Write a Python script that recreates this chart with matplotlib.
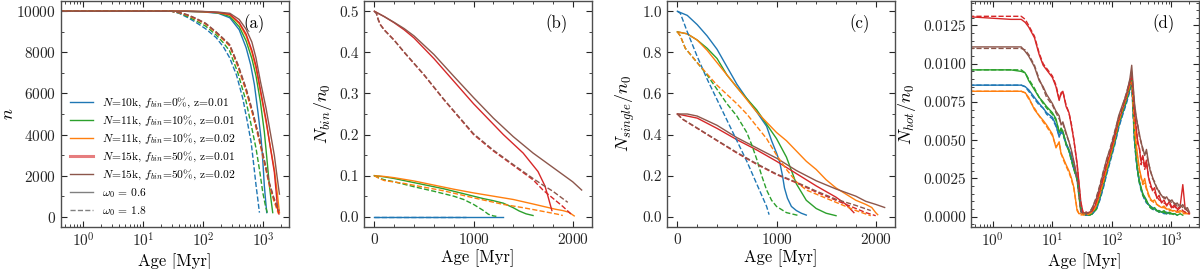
import numpy as np
import matplotlib
matplotlib.use("Agg")
import matplotlib.pyplot as plt
from matplotlib.ticker import MultipleLocator, FormatStrFormatter, LogLocator, NullFormatter

plt.rcParams['font.family'] = ['cmr10', 'DejaVu Serif']
plt.rcParams['mathtext.fontset'] = 'cm'
plt.rcParams['axes.formatter.use_mathtext'] = True
plt.rcParams['axes.unicode_minus'] = False

# ---------------- colours / labels ----------------
C_BLUE, C_GREEN, C_ORANGE, C_RED, C_BROWN = '#1f77b4', '#2ca02c', '#ff7f0e', '#d62728', '#8c564b'
run_labels = [r'$N$=10k, $f_{bin}$=0%, z=0.01',
              r'$N$=11k, $f_{bin}$=10%, z=0.01',
              r'$N$=11k, $f_{bin}$=10%, z=0.02',
              r'$N$=15k, $f_{bin}$=50%, z=0.01',
              r'$N$=15k, $f_{bin}$=50%, z=0.02']
omega_labels = [r'$\omega_0$ = 0.6', r'$\omega_0$ = 1.8']

# ---------------- panel (a): n vs age ----------------
a_blue_s_t = [0.3, 50, 100, 180, 280, 400, 521, 620, 716, 820, 926, 990, 1048, 1100, 1150]
a_blue_s_n = [10000, 10000, 9970, 9900, 9680, 9100, 8230, 7400, 6430, 5100, 3800, 2700, 1510, 800, 200]
a_green_s_t = [0.3, 50, 100, 180, 280, 400, 521, 650, 764, 900, 1048, 1150, 1274, 1360, 1446]
a_green_s_n = [10000, 10000, 9980, 9920, 9750, 9250, 8560, 7700, 6840, 5600, 4130, 2900, 1510, 800, 200]
a_orange_s_t = [0.3, 50, 100, 180, 280, 400, 521, 650, 764, 900, 1122, 1300, 1540, 1700, 1870]
a_orange_s_n = [10000, 10000, 9980, 9930, 9820, 9400, 8800, 8000, 7200, 6100, 4600, 3500, 2300, 1300, 200]
a_red_s_t = [0.3, 50, 100, 180, 280, 400, 521, 650, 764, 900, 1122, 1300, 1540, 1650, 1757]
a_red_s_n = [10000, 10000, 9985, 9940, 9850, 9450, 8890, 8100, 7330, 6200, 4700, 3500, 2160, 1200, 280]
a_brown_s_t = [0.3, 50, 100, 180, 280, 400, 520, 650, 760, 900, 1120, 1300, 1540, 1700, 1870]
a_brown_s_n = [10000, 10000, 9990, 9960, 9900, 9600, 9130, 8500, 7740, 6600, 5280, 4200, 2980, 2000, 1100]

a_blue_d_t = [0.3, 30, 40, 55, 76, 110, 165, 220, 277, 360, 458, 540, 631, 700, 764, 820, 869]
a_blue_d_n = [10000, 10000, 9900, 9700, 9460, 9150, 8720, 8250, 7740, 6900, 5770, 4700, 3640, 2500, 1510, 800, 200]
a_green_d_t = [0.3, 30, 40, 55, 76, 110, 165, 220, 277, 380, 521, 640, 764, 880, 988, 1100, 1197]
a_green_d_n = [10000, 10000, 9920, 9750, 9540, 9280, 8850, 8450, 8070, 7000, 5610, 4400, 3310, 2200, 1180, 500, 115]
a_orange_d_t = [0.3, 30, 40, 55, 76, 110, 165, 220, 277, 380, 521, 680, 869, 1050, 1274, 1500, 1700, 1800]
a_orange_d_n = [10000, 10000, 9930, 9800, 9620, 9380, 8950, 8600, 8310, 7300, 6100, 4900, 3640, 2600, 1510, 800, 350, 150]
a_red_d_t = [0.3, 30, 40, 55, 76, 110, 165, 220, 277, 380, 521, 680, 869, 1050, 1274, 1500, 1757, 1850]
a_red_d_n = [10000, 10000, 9940, 9820, 9640, 9400, 8980, 8640, 8350, 7380, 6200, 5000, 3750, 2700, 1600, 900, 350, 100]
a_brown_d_t = [0.3, 30, 40, 55, 76, 110, 165, 220, 277, 380, 521, 680, 869, 1050, 1274, 1500, 1757, 1850]
a_brown_d_n = [10000, 10000, 9950, 9830, 9660, 9420, 9000, 8660, 8380, 7420, 6250, 5050, 3800, 2750, 1650, 950, 450, 280]

# ---------------- panel (b): N_bin / n0 ----------------
b_blue_s_t = [0, 1300]
b_blue_s_v = [0.0, 0.0]
b_blue_d_t = [0, 920]
b_blue_d_v = [0.0, 0.0]
b_green_s_t = [0, 100, 200, 300, 500, 700, 900, 1000, 1100, 1200, 1300, 1400, 1460, 1530, 1600]
b_green_s_v = [0.1, 0.097, 0.093, 0.088, 0.078, 0.068, 0.056, 0.050, 0.044, 0.039, 0.033, 0.022, 0.014, 0.007, 0.003]
b_green_d_t = [0, 50, 100, 200, 400, 600, 800, 900, 1000, 1100, 1150, 1200, 1230]
b_green_d_v = [0.1, 0.094, 0.090, 0.085, 0.073, 0.062, 0.050, 0.042, 0.030, 0.015, 0.006, 0.002, 0.001]
b_orange_s_t = [0, 100, 200, 400, 600, 800, 1000, 1200, 1400, 1600, 1830, 1900, 1960, 2015]
b_orange_s_v = [0.1, 0.098, 0.095, 0.087, 0.077, 0.067, 0.058, 0.050, 0.042, 0.031, 0.018, 0.015, 0.011, 0.002]
b_orange_d_t = [0, 50, 100, 300, 500, 700, 1000, 1300, 1500, 1700, 1850, 1900]
b_orange_d_v = [0.1, 0.093, 0.088, 0.081, 0.072, 0.063, 0.046, 0.030, 0.022, 0.013, 0.006, 0.003]
b_red_s_t = [0, 100, 200, 300, 400, 600, 800, 1000, 1200, 1300, 1500, 1650, 1700, 1720, 1750, 1790]
b_red_s_v = [0.5, 0.487, 0.472, 0.455, 0.435, 0.385, 0.330, 0.275, 0.225, 0.200, 0.155, 0.110, 0.085, 0.075, 0.050, 0.015]
b_brown_s_t = [0, 100, 200, 300, 400, 600, 800, 1000, 1200, 1400, 1600, 1800, 2000, 2090]
b_brown_s_v = [0.5, 0.487, 0.473, 0.458, 0.440, 0.395, 0.342, 0.290, 0.240, 0.195, 0.155, 0.120, 0.085, 0.065]
b_red_d_t = [0, 20, 40, 60, 100, 200, 300, 500, 700, 1000, 1200, 1400, 1600, 1700, 1800, 1900, 1990]
b_red_d_v = [0.5, 0.495, 0.480, 0.468, 0.455, 0.430, 0.400, 0.345, 0.285, 0.200, 0.160, 0.125, 0.090, 0.065, 0.045, 0.025, 0.005]
b_brown_d_t = [0, 20, 40, 60, 100, 200, 300, 500, 700, 1000, 1200, 1400, 1600, 1700, 1800, 1950]
b_brown_d_v = [0.5, 0.495, 0.478, 0.467, 0.454, 0.429, 0.401, 0.346, 0.286, 0.202, 0.162, 0.127, 0.093, 0.077, 0.062, 0.035]

# ---------------- panel (c): N_single / n0 ----------------
c_blue_s_t = [0, 100, 200, 300, 400, 500, 600, 700, 800, 900, 950, 1000, 1030, 1060, 1080, 1110, 1150, 1200, 1250, 1300]
c_blue_s_v = [1.0, 0.98, 0.935, 0.88, 0.815, 0.73, 0.645, 0.575, 0.51, 0.44, 0.37, 0.31, 0.27, 0.20, 0.14, 0.09, 0.05, 0.03, 0.017, 0.008]
c_blue_d_t = [0, 30, 100, 200, 300, 400, 500, 600, 700, 800, 900, 925]
c_blue_d_v = [1.0, 0.99, 0.90, 0.78, 0.67, 0.57, 0.47, 0.37, 0.27, 0.16, 0.05, 0.01]
c_green_s_t = [0, 100, 200, 300, 400, 500, 600, 700, 800, 900, 1000, 1100, 1200, 1300, 1400, 1500, 1600]
c_green_s_v = [0.9, 0.89, 0.86, 0.82, 0.77, 0.69, 0.63, 0.575, 0.52, 0.45, 0.38, 0.29, 0.16, 0.08, 0.04, 0.017, 0.005]
c_green_d_t = [0, 30, 80, 200, 300, 400, 500, 600, 700, 750, 800, 850, 900, 950, 1000, 1100, 1230]
c_green_d_v = [0.9, 0.88, 0.82, 0.75, 0.69, 0.62, 0.55, 0.49, 0.41, 0.35, 0.28, 0.20, 0.13, 0.08, 0.05, 0.02, 0.005]
c_orange_s_t = [0, 100, 200, 300, 400, 500, 600, 700, 800, 900, 1000, 1100, 1200, 1300, 1400, 1500, 1600, 1700, 1800, 1900, 1960, 2000, 2020]
c_orange_s_v = [0.9, 0.89, 0.86, 0.81, 0.75, 0.69, 0.63, 0.57, 0.51, 0.46, 0.41, 0.37, 0.32, 0.27, 0.23, 0.18, 0.14, 0.11, 0.08, 0.06, 0.045, 0.02, 0.01]
c_orange_d_t = [0, 30, 80, 200, 400, 600, 700, 800, 900, 1000, 1100, 1200, 1300, 1400, 1600, 1800, 1950]
c_orange_d_v = [0.9, 0.88, 0.82, 0.75, 0.64, 0.55, 0.50, 0.44, 0.38, 0.30, 0.23, 0.17, 0.13, 0.11, 0.07, 0.03, 0.005]
c_red_s_t = [0, 200, 400, 600, 800, 1000, 1200, 1400, 1600, 1700, 1780]
c_red_s_v = [0.5, 0.48, 0.43, 0.375, 0.325, 0.27, 0.21, 0.15, 0.095, 0.06, 0.02]
c_brown_s_t = [0, 100, 200, 400, 600, 800, 1000, 1200, 1400, 1600, 1800, 1900, 2000, 2090]
c_brown_s_v = [0.5, 0.5, 0.49, 0.445, 0.385, 0.335, 0.285, 0.225, 0.175, 0.135, 0.10, 0.075, 0.06, 0.045]
c_red_d_t = [0, 50, 200, 400, 600, 800, 1000, 1200, 1400, 1600, 1800, 1900, 2000]
c_red_d_v = [0.5, 0.475, 0.43, 0.37, 0.31, 0.255, 0.205, 0.165, 0.12, 0.08, 0.04, 0.02, 0.005]
c_brown_d_t = [0, 50, 200, 400, 600, 800, 1000, 1200, 1400, 1600, 1800, 1950]
c_brown_d_v = [0.5, 0.476, 0.432, 0.372, 0.313, 0.258, 0.208, 0.168, 0.125, 0.085, 0.055, 0.03]

# ---------------- panel (d): N_hot / n0 ----------------
d_age = [0.3, 2, 3, 3.5, 4, 5, 6, 7, 8, 10, 11.5, 13, 14, 15, 17, 19, 21, 23, 26, 28,
         30, 33, 37, 42, 47, 55, 63, 72, 82, 95, 110, 130, 150, 175, 200, 215, 225,
         240, 255, 270, 290, 310, 330, 355, 380, 410, 440, 480, 520, 570, 620, 680,
         750, 830, 920, 1020, 1130, 1250, 1400, 1550, 1700, 1850, 2000]
nan = np.nan
d_red_s = [.0131, .0129, .0129, .0127, .0124, .0117, .0106, .0099, .0096, .0091, .0085, .0076, .0081, .0082, .0072, .0068, .0059, .0050, .0035, .0022,
           .0010, .0002, .0003, .0002, .0004, .0009, .0017, .0025, .0034, .0042, .0051, .0063, .0070, .0078, .0087, .0094, .0082,
           .0068, .0058, .0050, .0044, .0036, .0040, .0033, .0037, .0026, .0022, .0017, .0019, .0012, .0014, .0009,
           .0011, .0007, .0010, .0006, .0008, .0005, .0007, .0021, .0005, .0004, .0002]
d_red_d = [.0131, .0131, .0131, .0129, .0125, .0118, .0107, .0100, .0097, .0092, .0086, .0077, .0080, .0082, .0073, .0068, .0060, .0050, .0034, .0021,
           .0009, .0002, .0002, .0003, .0004, .0010, .0018, .0026, .0035, .0043, .0052, .0064, .0071, .0079, .0088, .0092, .0080,
           .0066, .0060, .0048, .0045, .0034, .0039, .0031, .0035, .0027, .0020, .0018, .0016, .0013, .0011, .0010,
           .0009, .0008, .0009, .0005, .0007, .0004, .0006, .0004, .0003, .0002, .0002]
d_brown_s = [.0111, .0111, .0111, .0108, .0105, .0098, .0089, .0085, .0080, .0074, .0069, .0066, .0060, .0062, .0055, .0049, .0043, .0036, .0026, .0016,
             .0004, .0002, .0003, .0002, .0006, .0012, .0020, .0029, .0038, .0045, .0054, .0066, .0073, .0080, .0090, .0099, .0088,
             .0074, .0066, .0060, .0054, .0048, .0045, .0040, .0044, .0036, .0030, .0026, .0022, .0019, .0016, .0014,
             .0012, .0013, .0010, .0011, .0008, .0009, .0006, .0008, .0005, .0006, .0003]
d_brown_d = [.0110, .0110, .0110, .0109, .0106, .0099, .0090, .0084, .0078, .0073, .0068, .0064, .0061, .0061, .0054, .0049, .0042, .0035, .0025, .0015,
             .0003, .0002, .0002, .0003, .0006, .0013, .0021, .0030, .0037, .0046, .0055, .0065, .0072, .0081, .0089, .0095, .0086,
             .0072, .0064, .0061, .0052, .0049, .0043, .0041, .0042, .0035, .0031, .0025, .0023, .0018, .0017, .0013,
             .0013, .0011, .0011, .0009, .0009, .0007, .0008, .0006, .0006, .0004, .0003]
d_green_s = [.0096, .0096, .0095, .0094, .0089, .0083, .0078, .0075, .0072, .0068, .0064, .0055, .0058, .0056, .0048, .0043, .0037, .0031, .0025, .0014,
             .0005, .0002, .0001, .0001, .0002, .0006, .0014, .0022, .0031, .0040, .0049, .0061, .0069, .0076, .0085, .0091, .0075,
             .0052, .0040, .0031, .0023, .0019, .0015, .0013, .0011, .0008, .0007, .0005, .0006, .0004, .0004, .0003,
             .0004, .0002, .0003, .0002, .0002, .0001, .0002, .0001, nan, nan, nan]
d_green_d = [.0096, .0096, .0096, .0094, .0090, .0084, .0078, .0074, .0071, .0067, .0063, .0056, .0057, .0055, .0047, .0043, .0036, .0031, .0024, .0013,
             .0004, .0002, .0001, .0001, .0002, .0005, .0013, .0021, .0030, .0039, .0048, .0060, .0068, .0076, .0084, .0089, .0072,
             .0050, .0038, .0030, .0022, .0018, .0014, .0012, .0010, .0008, .0006, .0005, .0005, .0004, .0003, .0003,
             .0003, .0002, .0002, .0002, .0001, nan, nan, nan, nan, nan, nan]
d_blue_s = [.0086, .0086, .0086, .0085, .0083, .0078, .0074, .0071, .0068, .0065, .0060, .0052, .0056, .0055, .0048, .0044, .0039, .0032, .0026, .0019,
            .0006, .0002, .0001, .0002, .0002, .0005, .0012, .0020, .0029, .0038, .0047, .0059, .0067, .0075, .0083, .0089, .0073,
            .0050, .0039, .0030, .0023, .0018, .0015, .0012, .0010, .0008, .0007, .0006, .0005, .0004, .0004, .0003,
            .0003, .0003, .0002, .0002, .0002, .0001, nan, nan, nan, nan, nan]
d_blue_d = [.0086, .0086, .0086, .0085, .0082, .0077, .0073, .0071, .0067, .0064, .0059, .0053, .0055, .0054, .0047, .0043, .0038, .0031, .0025, .0017,
            .0005, .0002, .0001, .0001, .0002, .0005, .0011, .0019, .0028, .0037, .0046, .0058, .0066, .0074, .0082, .0087, .0070,
            .0048, .0037, .0029, .0022, .0017, .0014, .0011, .0009, .0008, .0006, .0005, .0004, .0004, .0003, .0003,
            .0002, .0002, .0002, nan, nan, nan, nan, nan, nan, nan, nan]
d_orange_s = [.0082, .0082, .0082, .0081, .0078, .0070, .0066, .0063, .0060, .0054, .0045, .0049, .0041, .0039, .0034, .0030, .0025, .0019, .0004, .0002,
              .0002, .0001, .0002, .0001, .0003, .0007, .0014, .0022, .0031, .0040, .0049, .0061, .0069, .0077, .0085, .0090, .0078,
              .0060, .0048, .0040, .0031, .0026, .0022, .0025, .0019, .0015, .0012, .0010, .0011, .0008, .0007, .0006,
              .0007, .0005, .0005, .0004, .0004, .0003, .0004, .0003, .0003, .0002, .0002]
d_orange_d = [.0082, .0082, .0082, .0081, .0077, .0071, .0066, .0062, .0059, .0053, .0046, .0048, .0042, .0038, .0033, .0029, .0024, .0018, .0005, .0002,
              .0001, .0002, .0001, .0002, .0003, .0008, .0015, .0023, .0032, .0041, .0050, .0062, .0070, .0078, .0086, .0088, .0075,
              .0057, .0046, .0038, .0030, .0025, .0021, .0022, .0018, .0014, .0011, .0010, .0009, .0008, .0007, .0006,
              .0006, .0005, .0004, .0004, .0003, .0003, .0003, .0002, .0002, .0002, nan]

# ---------------- figure ----------------
fig = plt.figure(figsize=(12, 2.69), dpi=100)
W, H = 228 / 1200, 226 / 269
B = 1 - 227 / 269
lefts = [61 / 1200, 364 / 1200, 667 / 1200, 971 / 1200]
axs = [fig.add_axes([l, B, W, H]) for l in lefts]

LW = 1.0
cols = [C_BLUE, C_GREEN, C_ORANGE, C_RED, C_BROWN]


def style(ax, letter):
    ax.tick_params(which='both', direction='in', top=True, right=True, labelsize=11, colors='0.15')
    ax.tick_params(which='major', length=4, width=0.8)
    ax.tick_params(which='minor', length=2, width=0.6)
    for s in ax.spines.values():
        s.set_color('0.3')
        s.set_linewidth(1.0)
    ax.text(0.845, 0.9, letter, transform=ax.transAxes, ha='center', va='center', fontsize=12)
    ax.set_xlabel('Age [Myr]', fontsize=12, labelpad=2)


# (a)
ax = axs[0]
sol_a = [(a_blue_s_t, a_blue_s_n), (a_green_s_t, a_green_s_n), (a_orange_s_t, a_orange_s_n),
         (a_red_s_t, a_red_s_n), (a_brown_s_t, a_brown_s_n)]
das_a = [(a_blue_d_t, a_blue_d_n), (a_green_d_t, a_green_d_n), (a_orange_d_t, a_orange_d_n),
         (a_red_d_t, a_red_d_n), (a_brown_d_t, a_brown_d_n)]
handles = []
for c, (t, v), lab in zip(cols, sol_a, run_labels):
    h, = ax.plot(t, v, color=c, lw=LW, label=lab)
    handles.append(h)
for c, (t, v) in zip(cols, das_a):
    ax.plot(t, v, color=c, lw=LW, ls='--')
g1, = ax.plot([], [], color='0.5', lw=LW, label=omega_labels[0])
g2, = ax.plot([], [], color='0.5', lw=LW, ls='--', label=omega_labels[1])
ax.set_xscale('log')
ax.set_xlim(0.43, 2700)
ax.set_ylim(-500, 10500)
ax.yaxis.set_major_locator(MultipleLocator(2000))
ax.yaxis.set_minor_locator(MultipleLocator(1000))
ax.xaxis.set_major_locator(LogLocator(base=10, numticks=10))
ax.xaxis.set_minor_locator(LogLocator(base=10, subs=np.arange(2, 10), numticks=20))
ax.xaxis.set_minor_formatter(NullFormatter())
ax.set_ylabel(r'$n$', fontsize=13, labelpad=0)
leg = ax.legend(handles=handles + [g1, g2], loc='lower left', frameon=False, fontsize=8.3,
                handlelength=2.0, handletextpad=0.8, labelspacing=0.33, borderaxespad=0.4)
leg.legend_handles[3].set_linewidth(2.2)
leg.legend_handles[3].set_alpha(0.6)
style(ax, '(a)')

# (b)
ax = axs[1]
sol_b = [(b_blue_s_t, b_blue_s_v), (b_green_s_t, b_green_s_v), (b_orange_s_t, b_orange_s_v),
         (b_red_s_t, b_red_s_v), (b_brown_s_t, b_brown_s_v)]
das_b = [(b_blue_d_t, b_blue_d_v), (b_green_d_t, b_green_d_v), (b_orange_d_t, b_orange_d_v),
         (b_red_d_t, b_red_d_v), (b_brown_d_t, b_brown_d_v)]
for c, (t, v) in zip(cols, sol_b):
    ax.plot(t, v, color=c, lw=LW)
for c, (t, v) in zip(cols, das_b):
    ax.plot(t, v, color=c, lw=LW, ls='--')
ax.set_xlim(-104.5, 2194.5)
ax.set_ylim(-0.025, 0.525)
ax.xaxis.set_major_locator(MultipleLocator(1000))
ax.xaxis.set_minor_locator(MultipleLocator(200))
ax.yaxis.set_major_locator(MultipleLocator(0.1))
ax.yaxis.set_minor_locator(MultipleLocator(0.05))
ax.yaxis.set_major_formatter(FormatStrFormatter('%.1f'))
ax.set_ylabel(r'$N_{bin}/n_0$', fontsize=13)
style(ax, '(b)')

# (c)
ax = axs[2]
sol_c = [(c_blue_s_t, c_blue_s_v), (c_green_s_t, c_green_s_v), (c_orange_s_t, c_orange_s_v),
         (c_red_s_t, c_red_s_v), (c_brown_s_t, c_brown_s_v)]
das_c = [(c_blue_d_t, c_blue_d_v), (c_green_d_t, c_green_d_v), (c_orange_d_t, c_orange_d_v),
         (c_red_d_t, c_red_d_v), (c_brown_d_t, c_brown_d_v)]
for c, (t, v) in zip(cols, sol_c):
    ax.plot(t, v, color=c, lw=LW)
for c, (t, v) in zip(cols, das_c):
    ax.plot(t, v, color=c, lw=LW, ls='--')
ax.set_xlim(-104.5, 2194.5)
ax.set_ylim(-0.05, 1.05)
ax.xaxis.set_major_locator(MultipleLocator(1000))
ax.xaxis.set_minor_locator(MultipleLocator(200))
ax.yaxis.set_major_locator(MultipleLocator(0.2))
ax.yaxis.set_minor_locator(MultipleLocator(0.1))
ax.yaxis.set_major_formatter(FormatStrFormatter('%.1f'))
ax.set_ylabel(r'$N_{single}/n_0$', fontsize=13)
style(ax, '(c)')

# (d)
ax = axs[3]
sol_d = [d_blue_s, d_green_s, d_orange_s, d_red_s, d_brown_s]
das_d = [d_blue_d, d_green_d, d_orange_d, d_red_d, d_brown_d]
for c, v in zip(cols, sol_d):
    ax.plot(d_age, v, color=c, lw=LW)
for c, v in zip(cols, das_d):
    ax.plot(d_age, v, color=c, lw=LW, ls='--')
ax.set_xscale('log')
ax.set_xlim(0.43, 2900)
ax.set_ylim(-0.00067, 0.0141)
ax.yaxis.set_major_locator(MultipleLocator(0.0025))
ax.yaxis.set_minor_locator(MultipleLocator(0.0005))
ax.yaxis.set_major_formatter(FormatStrFormatter('%.4f'))
ax.xaxis.set_major_locator(LogLocator(base=10, numticks=10))
ax.xaxis.set_minor_locator(LogLocator(base=10, subs=np.arange(2, 10), numticks=20))
ax.xaxis.set_minor_formatter(NullFormatter())
ax.set_ylabel(r'$N_{hot}/n_0$', fontsize=13)
style(ax, '(d)')

fig.savefig('out.png', dpi=100)
